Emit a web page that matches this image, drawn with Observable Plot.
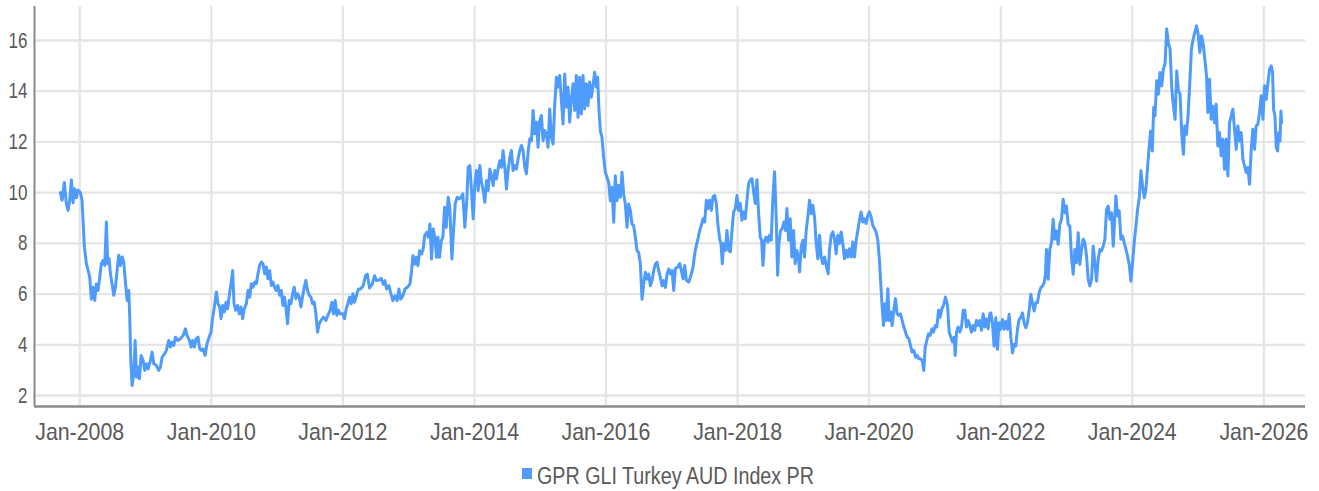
<!DOCTYPE html>
<html>
<head>
<meta charset="utf-8">
<script src="https://cdn.jsdelivr.net/npm/d3@7"></script>
<script src="https://cdn.jsdelivr.net/npm/@observablehq/plot@0.6"></script>
<style>
  html, body { margin: 0; padding: 0; background: #fff; overflow: hidden; }
  #chart svg { display: block; }
</style>
</head>
<body>
<div id="chart"></div>
<script>
// Series name
const seriesName = "GPR GLI Turkey AUD Index PR";

// [decimal year, index value]
const seg2007_2012 = [[2007.706,10.0],[2007.732,9.7],[2007.767,10.4],[2007.797,9.57],[2007.823,9.3],[2007.848,9.7],[2007.873,10.5],[2007.899,9.6],[2007.924,10.15],[2007.949,9.8],[2007.975,10.1],[2008.010,10.0],[2008.035,9.7],[2008.051,8.9],[2008.071,7.85],[2008.101,7.2],[2008.127,6.93],[2008.152,6.67],[2008.177,5.8],[2008.203,6.27],[2008.228,5.75],[2008.253,6.4],[2008.278,6.14],[2008.304,6.67],[2008.329,7.2],[2008.354,7.33],[2008.380,7.13],[2008.405,8.84],[2008.425,7.2],[2008.446,7.4],[2008.466,6.8],[2008.491,6.4],[2008.516,5.95],[2008.542,6.27],[2008.567,6.93],[2008.592,7.53],[2008.618,7.13],[2008.643,7.46],[2008.668,7.26],[2008.694,6.47],[2008.719,5.75],[2008.744,6.14],[2008.759,5.09],[2008.775,3.38],[2008.795,2.39],[2008.820,2.86],[2008.841,4.17],[2008.861,2.72],[2008.886,3.12],[2008.906,2.66],[2008.932,3.58],[2008.962,3.38],[2008.987,2.99],[2009.013,3.25],[2009.038,3.05],[2009.073,3.38],[2009.099,3.71],[2009.124,3.25],[2009.165,3.18],[2009.200,2.99],[2009.225,3.12],[2009.251,3.51],[2009.286,3.64],[2009.316,3.78],[2009.352,4.17],[2009.377,3.91],[2009.403,4.1],[2009.428,3.97],[2009.453,4.3],[2009.489,4.17],[2009.529,4.24],[2009.570,4.37],[2009.605,4.63],[2009.630,4.37],[2009.666,4.17],[2009.691,3.91],[2009.716,4.17],[2009.742,3.91],[2009.767,4.24],[2009.797,4.3],[2009.823,3.84],[2009.848,3.78],[2009.873,3.84],[2009.904,3.58],[2009.934,4.04],[2009.965,4.3],[2009.995,4.5],[2010.020,5.09],[2010.046,5.49],[2010.076,6.08],[2010.101,5.62],[2010.127,5.49],[2010.147,5.03],[2010.172,5.55],[2010.197,5.29],[2010.223,5.68],[2010.248,5.42],[2010.273,5.95],[2010.299,6.41],[2010.324,6.93],[2010.344,5.62],[2010.370,5.36],[2010.400,5.55],[2010.425,5.22],[2010.451,5.49],[2010.476,5.03],[2010.501,5.42],[2010.532,5.62],[2010.557,6.14],[2010.582,5.88],[2010.608,6.41],[2010.633,6.27],[2010.658,6.47],[2010.684,6.41],[2010.709,6.8],[2010.734,7.13],[2010.759,7.26],[2010.785,7.2],[2010.810,6.8],[2010.835,7.07],[2010.861,6.6],[2010.886,6.93],[2010.911,6.34],[2010.937,6.47],[2010.962,6.27],[2010.987,6.14],[2011.013,6.34],[2011.038,5.95],[2011.063,6.14],[2011.089,5.55],[2011.114,5.88],[2011.139,5.36],[2011.159,4.83],[2011.185,5.75],[2011.210,5.62],[2011.235,6.01],[2011.261,6.27],[2011.286,5.82],[2011.311,6.01],[2011.337,5.88],[2011.362,5.49],[2011.387,5.88],[2011.413,6.27],[2011.438,6.54],[2011.463,6.14],[2011.489,5.95],[2011.514,5.88],[2011.539,5.62],[2011.565,5.68],[2011.590,5.22],[2011.615,4.5],[2011.641,4.83],[2011.666,4.96],[2011.706,5.09],[2011.742,4.96],[2011.772,5.16],[2011.808,5.36],[2011.833,5.68],[2011.858,5.22],[2011.884,5.75],[2011.909,5.16],[2011.934,5.36],[2011.959,5.22],[2012.000,5.22],[2012.025,5.03],[2012.051,5.42],[2012.076,5.62],[2012.101,5.88],[2012.127,5.62],[2012.152,6.01],[2012.177,5.68],[2012.213,6.01],[2012.238,6.2]];

const seg2012_2017 = [[2012.268,6.2],[2012.309,6.33],[2012.344,6.72],[2012.370,6.79],[2012.405,6.24],[2012.446,6.39],[2012.481,6.72],[2012.511,6.53],[2012.547,6.55],[2012.582,6.62],[2012.613,6.39],[2012.638,6.53],[2012.663,6.2],[2012.699,6.33],[2012.724,6.07],[2012.759,5.74],[2012.790,5.93],[2012.825,5.74],[2012.851,6.2],[2012.876,5.8],[2012.911,5.93],[2012.942,6.2],[2012.977,6.26],[2013.018,6.39],[2013.043,6.92],[2013.063,7.51],[2013.089,7.18],[2013.114,7.45],[2013.139,7.12],[2013.165,7.71],[2013.195,7.58],[2013.220,7.78],[2013.241,8.3],[2013.271,8.43],[2013.296,8.24],[2013.322,8.76],[2013.347,7.38],[2013.372,8.57],[2013.397,8.24],[2013.423,7.45],[2013.443,8.24],[2013.468,7.45],[2013.494,8.1],[2013.519,8.24],[2013.544,9.42],[2013.570,8.63],[2013.600,9.82],[2013.625,9.36],[2013.656,7.38],[2013.681,8.5],[2013.706,9.55],[2013.737,9.82],[2013.767,9.75],[2013.797,9.82],[2013.822,9.95],[2013.853,8.63],[2013.884,9.75],[2013.904,11.0],[2013.929,11.07],[2013.954,10.08],[2013.980,8.96],[2014.005,10.34],[2014.030,10.87],[2014.056,10.08],[2014.081,11.07],[2014.106,10.41],[2014.132,10.08],[2014.157,9.62],[2014.182,10.47],[2014.208,10.08],[2014.233,10.93],[2014.258,10.67],[2014.284,10.28],[2014.309,10.87],[2014.334,10.54],[2014.359,10.93],[2014.385,11.26],[2014.410,11.0],[2014.435,11.66],[2014.461,11.0],[2014.486,10.14],[2014.511,10.87],[2014.537,11.39],[2014.562,11.66],[2014.587,10.87],[2014.613,11.07],[2014.638,10.93],[2014.663,11.33],[2014.689,11.66],[2014.714,11.86],[2014.739,11.66],[2014.765,11.0],[2014.790,10.74],[2014.815,11.59],[2014.841,12.12],[2014.866,12.05],[2014.891,13.24],[2014.916,12.32],[2014.942,12.78],[2014.967,11.79],[2014.992,12.84],[2015.018,13.04],[2015.043,12.05],[2015.068,12.45],[2015.094,12.32],[2015.119,11.79],[2015.144,13.3],[2015.170,12.18],[2015.195,11.92],[2015.220,13.43],[2015.246,14.55],[2015.271,14.16],[2015.296,14.62],[2015.322,13.63],[2015.347,12.71],[2015.372,14.68],[2015.397,13.37],[2015.423,14.16],[2015.448,12.78],[2015.473,13.7],[2015.499,14.29],[2015.524,13.24],[2015.549,14.62],[2015.575,12.97],[2015.600,14.55],[2015.625,13.1],[2015.651,14.62],[2015.676,13.3],[2015.701,14.29],[2015.727,13.43],[2015.752,14.36],[2015.777,13.76],[2015.803,14.22],[2015.828,14.75],[2015.853,14.16],[2015.873,14.55],[2015.894,13.24],[2015.914,12.45],[2015.939,12.18],[2015.965,11.39],[2015.990,10.8],[2016.015,10.61],[2016.041,10.41],[2016.066,9.68],[2016.091,10.21],[2016.117,8.83],[2016.142,10.67],[2016.167,9.68],[2016.192,10.28],[2016.218,9.82],[2016.243,10.8],[2016.268,9.95],[2016.294,9.55],[2016.319,8.63],[2016.344,9.55],[2016.370,9.29],[2016.395,8.76],[2016.420,8.7],[2016.446,8.24],[2016.471,7.71],[2016.496,7.64],[2016.522,7.18],[2016.547,5.8],[2016.572,6.39],[2016.597,6.86],[2016.623,6.59],[2016.648,6.79],[2016.673,6.33],[2016.699,6.53],[2016.724,6.92],[2016.749,7.18],[2016.775,7.25],[2016.800,6.92],[2016.825,6.66],[2016.851,6.33],[2016.876,6.53],[2016.901,6.26],[2016.927,6.79],[2016.952,6.99],[2016.977,6.79]];

const seg2017_2021 = [[2017.003,6.93],[2017.028,6.14],[2017.053,7.0],[2017.089,7.07],[2017.119,7.2],[2017.144,6.93],[2017.170,6.6],[2017.195,7.13],[2017.220,6.54],[2017.256,6.47],[2017.291,6.74],[2017.322,7.07],[2017.347,7.59],[2017.372,7.92],[2017.397,8.18],[2017.423,8.51],[2017.448,8.71],[2017.473,8.97],[2017.499,8.84],[2017.524,9.7],[2017.549,9.37],[2017.575,9.7],[2017.600,9.3],[2017.625,9.83],[2017.651,9.89],[2017.676,9.57],[2017.701,8.71],[2017.727,8.18],[2017.747,7.99],[2017.767,7.2],[2017.787,7.99],[2017.813,7.72],[2017.838,8.51],[2017.863,7.72],[2017.889,7.66],[2017.914,8.51],[2017.939,9.24],[2017.965,9.37],[2017.990,9.89],[2018.015,9.3],[2018.041,9.57],[2018.066,8.91],[2018.091,9.24],[2018.116,8.97],[2018.142,9.7],[2018.167,10.36],[2018.192,10.49],[2018.218,10.55],[2018.243,10.03],[2018.268,9.57],[2018.294,10.51],[2018.319,9.17],[2018.344,8.25],[2018.365,8.12],[2018.385,7.13],[2018.410,8.12],[2018.435,8.25],[2018.461,8.05],[2018.486,8.32],[2018.511,8.12],[2018.537,9.83],[2018.562,10.82],[2018.587,9.04],[2018.608,6.74],[2018.628,7.99],[2018.653,8.51],[2018.678,8.58],[2018.704,8.84],[2018.729,8.51],[2018.749,9.37],[2018.775,8.12],[2018.800,8.97],[2018.825,7.46],[2018.851,8.51],[2018.876,7.2],[2018.901,7.72],[2018.927,7.39],[2018.942,6.87],[2018.967,7.86],[2018.992,8.12],[2019.018,7.46],[2019.043,8.51],[2019.068,9.04],[2019.094,9.7],[2019.119,9.17],[2019.144,9.5],[2019.170,9.04],[2019.195,7.99],[2019.220,7.39],[2019.246,8.32],[2019.271,7.46],[2019.296,7.2],[2019.322,7.46],[2019.347,7.13],[2019.377,6.8],[2019.397,7.72],[2019.423,8.32],[2019.448,8.45],[2019.473,8.18],[2019.499,7.59],[2019.524,8.32],[2019.549,7.99],[2019.575,8.45],[2019.600,7.99],[2019.625,7.39],[2019.651,7.72],[2019.676,7.46],[2019.701,7.79],[2019.727,7.46],[2019.752,8.05],[2019.777,7.46],[2019.803,8.12],[2019.828,8.51],[2019.853,8.91],[2019.878,9.24],[2019.904,8.84],[2019.929,8.97],[2019.954,8.78],[2019.980,9.1],[2020.005,9.24],[2020.030,9.04],[2020.056,8.71],[2020.081,8.58],[2020.106,8.45],[2020.132,8.12],[2020.157,7.33],[2020.177,6.41],[2020.198,5.49],[2020.218,4.76],[2020.238,5.62],[2020.258,4.96],[2020.284,6.21],[2020.304,4.96],[2020.329,5.29],[2020.349,4.76],[2020.375,5.36],[2020.400,5.82],[2020.425,5.22],[2020.451,5.16],[2020.476,5.22],[2020.501,4.96],[2020.527,4.7],[2020.552,4.5],[2020.577,4.3],[2020.603,4.24],[2020.628,3.97],[2020.653,3.71],[2020.679,3.78],[2020.704,3.51],[2020.729,3.58],[2020.754,3.45],[2020.780,3.45],[2020.805,3.38],[2020.830,2.99],[2020.851,3.91],[2020.876,4.17],[2020.901,4.43],[2020.927,4.37],[2020.952,4.63],[2020.977,4.5],[2021.003,4.76],[2021.028,4.7],[2021.053,5.36],[2021.078,5.09],[2021.104,5.42],[2021.129,5.55],[2021.159,5.88],[2021.190,5.55],[2021.215,4.5],[2021.241,4.3],[2021.266,4.11],[2021.291,4.3],[2021.306,3.58],[2021.327,4.5],[2021.352,4.7],[2021.377,4.5],[2021.403,4.7],[2021.428,5.36],[2021.453,5.36],[2021.478,4.7],[2021.504,4.96],[2021.529,4.76],[2021.554,4.5],[2021.580,4.76],[2021.605,4.57],[2021.630,4.96],[2021.656,4.76],[2021.681,4.96],[2021.706,4.57],[2021.732,5.22],[2021.757,4.7],[2021.782,5.03],[2021.808,4.63],[2021.833,5.22]];

const seg2021_2026 = [[2021.848,5.26],[2021.873,4.87],[2021.898,3.95],[2021.924,5.07],[2021.949,3.82],[2021.975,4.87],[2022.000,4.61],[2022.025,5.0],[2022.051,4.61],[2022.076,4.93],[2022.102,4.61],[2022.127,5.2],[2022.152,4.34],[2022.178,3.68],[2022.203,4.01],[2022.228,3.95],[2022.254,4.61],[2022.279,5.0],[2022.305,5.07],[2022.330,5.26],[2022.355,4.87],[2022.381,4.67],[2022.406,4.87],[2022.431,5.33],[2022.457,5.99],[2022.482,5.66],[2022.508,5.33],[2022.533,5.66],[2022.558,5.66],[2022.584,6.05],[2022.609,6.25],[2022.635,6.32],[2022.660,6.45],[2022.680,6.78],[2022.695,7.76],[2022.721,6.58],[2022.746,7.76],[2022.772,8.03],[2022.797,8.95],[2022.822,8.16],[2022.848,8.49],[2022.873,7.96],[2022.898,8.75],[2022.924,8.95],[2022.949,9.74],[2022.975,9.21],[2023.000,9.47],[2023.025,8.75],[2023.051,8.68],[2023.076,7.43],[2023.102,6.78],[2023.127,7.76],[2023.152,7.24],[2023.178,8.42],[2023.203,7.17],[2023.228,7.76],[2023.254,8.16],[2023.279,8.03],[2023.305,7.5],[2023.330,6.58],[2023.355,6.32],[2023.381,6.58],[2023.406,7.89],[2023.431,7.24],[2023.457,6.51],[2023.482,7.37],[2023.508,7.76],[2023.533,7.7],[2023.558,7.89],[2023.584,8.16],[2023.609,9.34],[2023.635,9.47],[2023.660,8.95],[2023.685,9.21],[2023.711,7.89],[2023.736,9.08],[2023.751,9.87],[2023.777,9.08],[2023.802,9.28],[2023.827,8.16],[2023.853,8.29],[2023.878,8.03],[2023.904,7.76],[2023.929,7.5],[2023.954,7.17],[2023.980,6.51],[2024.005,7.24],[2024.030,8.03],[2024.056,8.68],[2024.081,9.34],[2024.107,9.8],[2024.132,10.86],[2024.157,10.26],[2024.183,9.8],[2024.208,10.13],[2024.234,11.05],[2024.254,11.71],[2024.279,12.43],[2024.305,11.64],[2024.325,13.36],[2024.345,13.03],[2024.371,14.41],[2024.396,13.88],[2024.421,14.74],[2024.447,14.21],[2024.472,14.87],[2024.497,15.07],[2024.523,16.45],[2024.548,15.92],[2024.574,15.66],[2024.599,14.14],[2024.624,13.42],[2024.650,12.89],[2024.675,14.8],[2024.701,14.01],[2024.726,13.88],[2024.751,12.3],[2024.777,11.51],[2024.797,12.63],[2024.822,12.3],[2024.848,13.09],[2024.873,14.34],[2024.898,15.66],[2024.924,16.05],[2024.949,16.32],[2024.975,16.58],[2025.000,16.25],[2025.025,15.53],[2025.051,16.18],[2025.076,15.86],[2025.102,15.26],[2025.127,14.61],[2025.147,13.16],[2025.173,14.47],[2025.198,12.89],[2025.223,13.42],[2025.249,12.76],[2025.274,13.49],[2025.299,11.84],[2025.325,12.37],[2025.350,11.45],[2025.376,12.11],[2025.401,10.92],[2025.426,12.11],[2025.452,10.66],[2025.477,12.76],[2025.503,13.03],[2025.528,13.29],[2025.553,12.5],[2025.579,11.71],[2025.604,12.63],[2025.629,12.04],[2025.655,12.37],[2025.680,11.32],[2025.706,11.05],[2025.731,10.79],[2025.756,10.99],[2025.782,10.33],[2025.807,11.71],[2025.832,12.5],[2025.858,11.71],[2025.883,12.63],[2025.909,12.7],[2025.934,13.16],[2025.959,13.82],[2025.985,12.89],[2026.010,14.21],[2026.036,13.68],[2026.061,14.34],[2026.086,14.87],[2026.112,15.0],[2026.132,14.74],[2026.147,13.29],[2026.168,13.03],[2026.188,11.78],[2026.208,11.64],[2026.228,12.37],[2026.244,12.04],[2026.259,13.22],[2026.269,12.76]];

// Axis ticks
const yTicks = [2, 4, 6, 8, 10, 12, 14, 16];
const xTickYears = [2008, 2010, 2012, 2014, 2016, 2018, 2020, 2022, 2024, 2026];
const xTickLabels = ["Jan-2008", "Jan-2010", "Jan-2012", "Jan-2014", "Jan-2016", "Jan-2018", "Jan-2020", "Jan-2022", "Jan-2024", "Jan-2026"];

// Convert decimal year to a UTC date
function toDate(t) {
  const y = Math.floor(t);
  const s = Date.UTC(y, 0, 1), e = Date.UTC(y + 1, 0, 1);
  return new Date(s + (t - y) * (e - s));
}

const data = [...seg2007_2012, ...seg2012_2017, ...seg2017_2021, ...seg2021_2026]
  .map(([t, v]) => ({date: toDate(t), value: v}));

const xTicks = xTickYears.map(y => new Date(Date.UTC(y, 0, 1)));
const labelOf = new Map(xTicks.map((d, i) => [+d, xTickLabels[i]]));

const xDomain = [new Date(Date.UTC(2007, 3, 25)), new Date(Date.UTC(2026, 7, 20))];
const yDomain = [1.566, 17.34];

const lineColor = "#4e9bfb";
const font = "'Liberation Sans', Arial, sans-serif";

const chart = Plot.plot({
  width: 1319,
  height: 455,
  marginLeft: 34,
  marginRight: 14,
  marginTop: 6,
  marginBottom: 49,
  style: {fontFamily: font, background: "#fff"},
  x: {type: "utc", domain: xDomain},
  y: {domain: yDomain},
  marks: [
    Plot.gridY(yTicks, {stroke: "#e5e5e5", strokeOpacity: 1, strokeWidth: 2.3}),
    Plot.gridX(xTicks, {stroke: "#e5e5e5", strokeOpacity: 1, strokeWidth: 2.3}),
    Plot.axisY(yTicks, {tickSize: 0, tickPadding: 7, fontSize: 22, color: "#595959", label: null}),
    Plot.axisX(xTicks, {tickSize: 0, tickPadding: 16, fontSize: 24, color: "#595959", label: null,
      tickFormat: d => labelOf.get(+d)}),
    Plot.ruleX([xDomain[0]], {stroke: "#8a8a8a", strokeWidth: 2}),
    Plot.ruleY([yDomain[0]], {stroke: "#8a8a8a", strokeWidth: 2.4}),
    Plot.line(data, {x: "date", y: "value", stroke: lineColor, strokeWidth: 3, strokeLinejoin: "round"})
  ]
});

// Condensed look of the reference font
d3.select(chart).selectAll('g[aria-label="x-axis tick label"] text')
  .attr("textLength", 89).attr("lengthAdjust", "spacingAndGlyphs");
d3.select(chart).selectAll('g[aria-label="y-axis tick label"] text')
  .each(function() { d3.select(this).attr("textLength", 9.5 * this.textContent.length).attr("lengthAdjust", "spacingAndGlyphs"); });

const root = document.getElementById("chart");
root.appendChild(chart);

// Legend below the chart
const legend = d3.create("svg").attr("width", 1319).attr("height", 36).style("display", "block");
legend.append("rect").attr("x", 522).attr("y", 13).attr("width", 10).attr("height", 11).attr("fill", lineColor);
legend.append("text").attr("x", 537).attr("y", 28.5)
  .attr("font-family", font).attr("font-size", 23).attr("fill", "#595959")
  .attr("textLength", 277).attr("lengthAdjust", "spacingAndGlyphs")
  .text(seriesName);
root.appendChild(legend.node());
</script>
</body>
</html>
